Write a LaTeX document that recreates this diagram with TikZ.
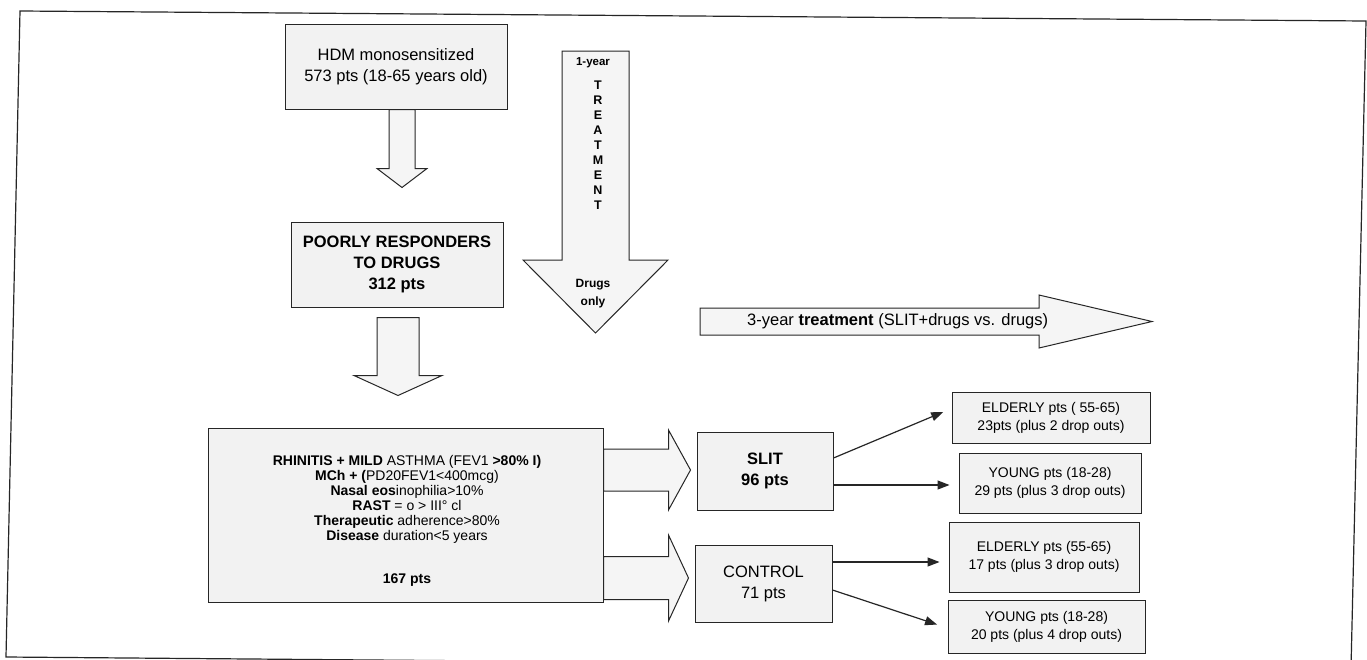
\documentclass[tikz,border=0pt]{standalone}
\usepackage{fontspec}
\setmainfont{Liberation Sans}
\usetikzlibrary{arrows.meta,calc}
\begin{document}
\begin{tikzpicture}[x=1pt,y=-1pt,
  box/.style={draw=black!85, line width=1pt, fill=black!5, inner sep=0pt, align=center},
  blk/.style={draw=black!85, line width=1pt, fill=black!4, line join=miter},
  thinarrow/.style={draw=black!85, line width=1.2pt, -{Triangle[length=12pt,width=9pt]}},
  big/.style={font=\fontsize{16.5}{21}\selectfont},
  bigbold/.style={font=\bfseries\fontsize{16.5}{21}\selectfont},
  mid/.style={font=\fontsize{14}{15}\selectfont, align=center, inner sep=0pt},
  small/.style={font=\fontsize{14}{18}\selectfont},
  tiny/.style={font=\bfseries\fontsize{12.5}{15}\selectfont, inner sep=0pt, align=center}
]
\useasboundingbox (0,0) rectangle (1367,659);
\clip (0,0) rectangle (1367,659);
\fill[white] (0,0) rectangle (1367,659);

% outer frame (scan-skewed)
\draw[black!85, line width=1.2pt] (20,11) -- (1366,21) -- (1351,668) -- (6,657) -- cycle;

% boxes
\node[box, big, minimum width=222, minimum height=85] (hdm) at (396,66.5)
  {HDM monosensitized\\573 pts (18-65 years old)};
\node[box, bigbold, minimum width=212, minimum height=85] (poor) at (397,264.5)
  {POORLY RESPONDERS\\TO DRUGS\\312 pts};
\node[box, minimum width=395, minimum height=174] (rh) at (405.5,515) {};
\node[mid] (rhtext) at (407,521)
  {{\bfseries RHINITIS + MILD} ASTHMA (FEV1 {\bfseries >80\% I)}\\
   {\bfseries MCh + (}PD20FEV1<400mcg)\\
   {\bfseries Nasal eos}inophilia>10\%\\
   {\bfseries RAST} = o > III° cl\\
   {\bfseries Therapeutic} adherence>80\%\\
   {\bfseries Disease} duration<5 years\\[28pt]
   {\bfseries 167 pts}};
\node[box, bigbold, minimum width=136, minimum height=78] (slit) at (765,471)
  {SLIT\\96 pts};
\node[box, big, minimum width=137, minimum height=77] (ctrl) at (763.5,583.5)
  {CONTROL\\71 pts};
\node[box, small, minimum width=198, minimum height=51] (e1) at (1051,417.5)
  {ELDERLY pts ( 55-65)\\23pts (plus 2 drop outs)};
\node[box, small, minimum width=182, minimum height=60] (y1) at (1050,483)
  {YOUNG pts (18-28)\\29 pts (plus 3 drop outs)};
\node[box, small, minimum width=190, minimum height=70] (e2) at (1044,557)
  {ELDERLY pts (55-65)\\17 pts (plus 3 drop outs)};
\node[box, small, minimum width=197, minimum height=53] (y2) at (1046.5,626.5)
  {YOUNG pts (18-28)\\20 pts (plus 4 drop outs)};

% block arrows between boxes
\coordinate (a1) at ($(hdm.south)+(6,0)$);
\draw[blk] (a1) ++(-13,0) -- ++(26,0) -- ++(0,59) -- ++(12,0) -- ++(-25,19) -- ++(-25,-19) -- ++(12,0) -- cycle;
\coordinate (a2) at ($(poor.south)+(1,10)$);
\draw[blk] (a2) ++(-21,0) -- ++(42,0) -- ++(0,58) -- ++(23,0) -- ++(-44,20) -- ++(-44,-20) -- ++(23,0) -- cycle;
\coordinate (a5) at ($(rh.east)+(0,-45)$);
\draw[blk] (a5) ++(0,-21) -- ++(65,0) -- ++(0,-19) -- ++(22,40) -- ++(-22,40) -- ++(0,-19) -- ++(-65,0) -- cycle;
\coordinate (a6) at ($(rh.east)+(0,63)$);
\draw[blk] (a6) ++(0,-21.5) -- ++(65,0) -- ++(0,-21.5) -- ++(20,43) -- ++(-20,43) -- ++(0,-21.5) -- ++(-65,0) -- cycle;

% 1-year treatment arrow
\coordinate (t0) at (595.5,51);
\draw[blk] (t0) ++(-33.5,0) -- ++(67,0) -- ++(0,209) -- ++(39,0) -- ++(-72.5,73) -- ++(-72.5,-73) -- ++(39,0) -- cycle;
\node[tiny, font=\bfseries\fontsize{11.5}{15}\selectfont] (tyear) at (593,63) {1-year};
\node[tiny] (tletters) at (598,145) {T\\R\\E\\A\\T\\M\\E\\N\\T};
\node[tiny, font=\bfseries\fontsize{12}{18}\selectfont] (tdrugs) at (593,294) {Drugs\\only};

% 3-year treatment arrow
\coordinate (h0) at (700,321.5);
\draw[blk] (h0) ++(0,-13.5) -- ++(339,0) -- ++(0,-13) -- ++(113,26.5) -- ++(-113,26.5) -- ++(0,-13) -- ++(-339,0) -- cycle;
\node[font=\fontsize{16.5}{18}\selectfont, anchor=west, inner sep=0pt] (htext) at (747,321)
  {3-year {\bfseries treatment} (SLIT+drugs vs. drugs)};

% thin arrows
\draw[thinarrow, shorten >=9pt] ($(slit.east)+(0,-13)$) -- ($(e1.west)+(0,-9)$);
\draw[thinarrow, shorten >=9pt] ($(slit.east)+(0,14)$) -- ($(y1.west)+(0,2)$);
\draw[thinarrow, shorten >=9pt] ($(ctrl.east)+(0,-21.5)$) -- ($(e2.west)+(0,5)$);
\draw[thinarrow, shorten >=11pt] ($(ctrl.east)+(0,6.5)$) -- ($(y2.west)+(0,1.5)$);
\end{tikzpicture}
\end{document}
